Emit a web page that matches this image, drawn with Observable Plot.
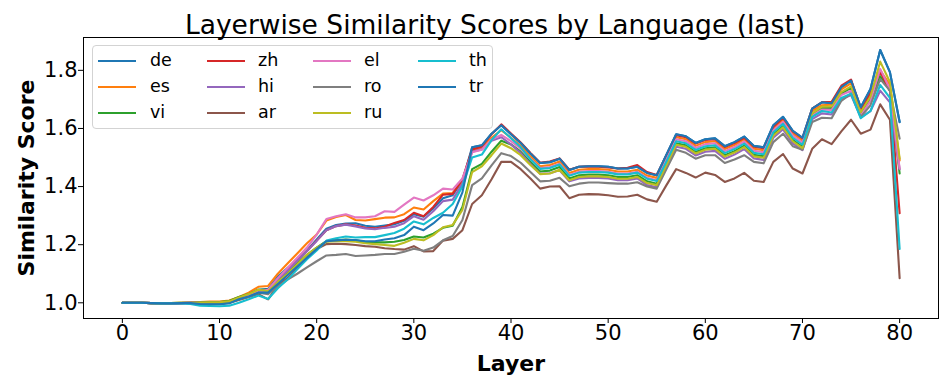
<!DOCTYPE html>
<html>
<head>
<meta charset="utf-8">
<script src="https://cdn.jsdelivr.net/npm/d3@7"></script>
<script src="https://cdn.jsdelivr.net/npm/@observablehq/plot@0.6"></script>
<style>
  body { margin: 0; background: #fff; font-family: "DejaVu Sans", sans-serif; }
  #wrap { position: relative; width: 947px; height: 388px; overflow: hidden; }
  #legend { position: absolute; left: 92px; top: 45px; width: 399px; height: 82px;
            border: 1px solid #d3d3d3; border-radius: 4px; background: rgba(255,255,255,0.8); }
  .sw { position: absolute; width: 38px; height: 2px; }
  .lb { position: absolute; font-size: 17.5px; line-height: 20px; color: #000; white-space: nowrap; }
</style>
</head>
<body>
<div id="wrap"></div>
<script>
// ---- data ----
const languages = ["de", "es", "vi", "zh", "hi", "ar", "el", "ro", "ru", "th", "tr"];
const colors = ["#1f77b4", "#ff7f0e", "#2ca02c", "#d62728", "#9467bd", "#8c564b",
                "#e377c2", "#7f7f7f", "#bcbd22", "#17becf", "#1f77b4"];
const xTicks = [0, 10, 20, 30, 40, 50, 60, 70, 80];
const yTicks = [1.0, 1.2, 1.4, 1.6, 1.8];
const title = "Layerwise Similarity Scores by Language (last)";
const xLabel = "Layer";
const yLabel = "Similarity Score";

const de = [
  1.0,1.0,1.0,0.999,0.998,0.998,0.999,0.999,0.997,0.996,0.997,1.0,
  1.015,1.028,1.045,1.048,1.09,1.12,1.148,1.18,1.218,1.255,1.268,1.273,1.274,1.265,1.262,1.266,1.27,1.282,1.305,1.296,1.325,1.36,1.37,1.42,
  1.535,1.542,1.582,1.611,1.58,1.55,1.514,1.481,1.484,1.496,1.457,1.468,1.47,1.47,1.468,1.462,1.462,1.468,1.447,1.439,
  1.51,1.58,1.573,1.55,1.563,1.566,1.539,1.553,1.572,1.54,1.535,1.611,1.64,1.592,1.568,
  1.668,1.69,1.687,1.742,1.765,1.673,1.736,1.87,1.794,1.622];
const es = [
  1.0,1.0,1.0,0.999,0.999,0.999,1.0,1.001,1.003,1.004,1.004,1.008,
  1.02,1.035,1.055,1.058,1.10,1.135,1.17,1.205,1.235,1.283,1.295,1.302,1.285,1.283,1.288,1.293,1.294,1.305,1.328,1.321,1.35,1.376,1.378,1.42,
  1.525,1.533,1.568,1.594,1.568,1.54,1.504,1.47,1.474,1.486,1.447,1.458,1.46,1.46,1.458,1.452,1.452,1.458,1.438,1.43,
  1.50,1.57,1.563,1.54,1.553,1.556,1.529,1.543,1.562,1.53,1.525,1.60,1.63,1.582,1.558,
  1.66,1.68,1.682,1.735,1.755,1.662,1.72,1.80,1.75,1.49];
const vi = [
  1.0,1.0,1.0,0.999,0.998,0.999,1.0,1.0,1.002,1.003,1.003,1.006,
  1.02,1.03,1.045,1.045,1.075,1.105,1.135,1.165,1.19,1.212,1.215,1.218,1.215,1.21,1.208,1.208,1.21,1.216,1.228,1.225,1.238,1.258,1.265,1.33,
  1.46,1.478,1.52,1.558,1.545,1.52,1.485,1.452,1.455,1.467,1.428,1.439,1.441,1.441,1.439,1.433,1.433,1.439,1.418,1.41,
  1.479,1.549,1.542,1.519,1.532,1.535,1.508,1.522,1.541,1.509,1.504,1.58,1.609,1.561,1.537,
  1.648,1.67,1.67,1.72,1.74,1.652,1.70,1.78,1.73,1.445];
const zh = [
  1.0,1.0,1.0,0.999,0.998,0.998,0.999,1.0,0.999,0.999,1.0,1.002,
  1.015,1.026,1.04,1.042,1.082,1.112,1.145,1.178,1.214,1.25,1.264,1.27,1.266,1.258,1.256,1.262,1.275,1.285,1.31,1.298,1.33,1.372,1.375,1.425,
  1.528,1.538,1.58,1.614,1.583,1.552,1.516,1.482,1.486,1.497,1.458,1.468,1.469,1.468,1.466,1.462,1.465,1.474,1.45,1.44,
  1.508,1.577,1.57,1.548,1.56,1.563,1.536,1.55,1.568,1.537,1.532,1.606,1.636,1.59,1.566,
  1.668,1.69,1.692,1.747,1.768,1.668,1.722,1.795,1.73,1.308];
const hi = [
  1.0,1.0,1.0,0.999,0.998,0.998,0.999,1.0,0.999,0.998,0.999,1.001,
  1.014,1.025,1.04,1.04,1.08,1.11,1.145,1.178,1.213,1.25,1.264,1.269,1.263,1.256,1.253,1.258,1.262,1.274,1.298,1.286,1.315,1.35,1.355,1.41,
  1.52,1.528,1.558,1.57,1.545,1.515,1.478,1.444,1.446,1.456,1.418,1.428,1.43,1.43,1.428,1.422,1.422,1.428,1.405,1.398,
  1.467,1.537,1.53,1.507,1.52,1.523,1.496,1.51,1.529,1.497,1.492,1.568,1.597,1.549,1.525,
  1.632,1.652,1.648,1.70,1.715,1.638,1.66,1.73,1.69,1.46];
const ar = [
  1.0,1.0,1.0,0.999,0.998,0.998,0.999,1.0,0.999,0.998,0.998,1.0,
  1.01,1.02,1.03,1.012,1.06,1.085,1.12,1.155,1.185,1.202,1.203,1.202,1.199,1.195,1.193,1.188,1.185,1.183,1.195,1.177,1.178,1.214,1.22,1.25,
  1.34,1.37,1.425,1.485,1.485,1.46,1.428,1.393,1.4,1.401,1.36,1.372,1.374,1.373,1.37,1.365,1.366,1.372,1.356,1.348,
  1.405,1.46,1.447,1.431,1.448,1.44,1.416,1.428,1.447,1.42,1.416,1.485,1.512,1.462,1.445,
  1.53,1.563,1.546,1.59,1.63,1.582,1.596,1.683,1.63,1.085];
const el = [
  1.0,1.0,1.0,0.999,0.998,0.998,0.999,1.0,1.0,1.0,1.001,1.003,
  1.015,1.025,1.04,1.045,1.085,1.12,1.155,1.19,1.235,1.288,1.298,1.305,1.294,1.294,1.298,1.315,1.313,1.338,1.362,1.352,1.37,1.393,1.39,1.428,
  1.518,1.527,1.562,1.578,1.556,1.53,1.496,1.464,1.467,1.479,1.44,1.451,1.453,1.453,1.451,1.445,1.445,1.451,1.43,1.422,
  1.493,1.563,1.556,1.533,1.546,1.549,1.522,1.536,1.555,1.523,1.518,1.594,1.623,1.575,1.551,
  1.645,1.665,1.664,1.715,1.73,1.645,1.695,1.805,1.735,1.462];
const ro = [
  1.0,1.0,1.0,0.999,0.998,0.998,0.999,1.0,0.999,0.998,0.998,1.0,
  1.012,1.02,1.035,1.03,1.056,1.08,1.10,1.122,1.143,1.163,1.165,1.168,1.161,1.163,1.165,1.168,1.168,1.176,1.186,1.179,1.19,1.215,1.23,1.285,
  1.405,1.428,1.473,1.515,1.505,1.482,1.45,1.418,1.42,1.43,1.401,1.41,1.414,1.414,1.412,1.41,1.41,1.415,1.4,1.393,
  1.46,1.527,1.516,1.496,1.508,1.508,1.481,1.493,1.508,1.485,1.48,1.553,1.582,1.539,1.527,
  1.622,1.637,1.635,1.695,1.72,1.64,1.68,1.77,1.73,1.565];
const ru = [
  1.0,1.0,1.0,0.999,0.998,0.999,1.0,1.0,1.001,1.002,1.002,1.005,
  1.018,1.03,1.045,1.04,1.072,1.10,1.133,1.165,1.19,1.21,1.212,1.212,1.21,1.205,1.202,1.199,1.196,1.207,1.22,1.215,1.233,1.26,1.268,1.32,
  1.45,1.47,1.508,1.548,1.532,1.508,1.474,1.443,1.445,1.458,1.422,1.433,1.435,1.435,1.433,1.427,1.427,1.433,1.412,1.405,
  1.474,1.544,1.537,1.514,1.527,1.53,1.503,1.517,1.536,1.504,1.499,1.575,1.604,1.556,1.532,
  1.652,1.675,1.676,1.725,1.745,1.656,1.71,1.83,1.76,1.496];
const th = [
  1.0,1.0,1.0,0.999,0.998,0.998,0.998,0.996,0.99,0.989,0.988,0.99,
  1.0,1.012,1.025,1.013,1.05,1.08,1.115,1.15,1.18,1.214,1.222,1.228,1.225,1.226,1.226,1.233,1.24,1.255,1.28,1.27,1.292,1.31,1.34,1.40,
  1.50,1.51,1.56,1.597,1.566,1.535,1.494,1.461,1.464,1.476,1.437,1.448,1.45,1.45,1.448,1.442,1.442,1.448,1.427,1.419,
  1.486,1.556,1.549,1.526,1.539,1.542,1.515,1.529,1.548,1.516,1.511,1.587,1.616,1.568,1.544,
  1.64,1.66,1.655,1.705,1.72,1.635,1.66,1.75,1.705,1.185];
const tr = [
  1.0,1.0,1.0,0.999,0.998,0.998,0.999,0.999,0.996,0.995,0.995,0.998,
  1.012,1.022,1.035,1.035,1.065,1.095,1.125,1.155,1.185,1.212,1.215,1.217,1.216,1.212,1.212,1.218,1.222,1.233,1.262,1.25,1.273,1.302,1.30,1.38,
  1.535,1.542,1.582,1.611,1.58,1.55,1.514,1.481,1.484,1.496,1.457,1.468,1.47,1.47,1.468,1.462,1.462,1.468,1.447,1.439,
  1.51,1.58,1.573,1.55,1.563,1.566,1.539,1.553,1.572,1.54,1.535,1.611,1.64,1.592,1.568,
  1.668,1.69,1.687,1.742,1.765,1.673,1.736,1.87,1.794,1.622];

const seriesValues = [de, es, vi, zh, hi, ar, el, ro, ru, th, tr];

// ---- build table ----
const rows = [];
languages.forEach((lang, i) => {
  seriesValues[i].forEach((v, layer) => rows.push({lang, layer, score: v}));
});

const lineMarks = languages.map((lang, i) =>
  Plot.line(rows.filter(r => r.lang === lang), {
    x: "layer", y: "score", stroke: colors[i], strokeWidth: 2.1
  })
);

const chart = Plot.plot({
  width: 947,
  height: 388,
  marginLeft: 83,
  marginRight: 9,
  marginTop: 37,
  marginBottom: 70,
  style: {fontFamily: "DejaVu Sans, sans-serif", fontSize: "21px", color: "#000", background: "#fff", overflow: "visible"},
  x: {domain: [-4, 84], label: null},
  y: {domain: [0.946, 1.913], label: null},
  marks: [
    ...lineMarks,
    Plot.frame({stroke: "#000", strokeWidth: 1}),
    Plot.axisX(xTicks, {tickSize: 5, tickPadding: 2, fontSize: 21, label: null, stroke: "#000"}),
    Plot.axisY(yTicks, {tickSize: 5, tickPadding: 1, fontSize: 21, label: null, tickFormat: d3.format(".1f"), stroke: "#000"}),
    Plot.text([title], {text: d => d, frameAnchor: "top", textAnchor: "middle", dx: -16, dy: -22, fontSize: 26.5, fill: "#000"}),
    Plot.text([xLabel], {text: d => d, frameAnchor: "bottom", textAnchor: "middle", dy: 52, fontSize: 22, fontWeight: "bold", fill: "#000"}),
    Plot.text([yLabel], {text: d => d, frameAnchor: "left", textAnchor: "middle", dx: -57, rotate: -90, fontSize: 22, fontWeight: "bold", fill: "#000"})
  ]
});

const wrap = document.getElementById("wrap");
wrap.appendChild(chart);

// ---- legend (4 columns, column-major) ----
const legend = document.createElement("div");
legend.id = "legend";
const colLine = [5, 114, 220, 325];
const colText = [57, 165, 271, 376];
const rowY = [15, 41, 67];
languages.forEach((lang, i) => {
  const c = Math.floor(i / 3), r = i % 3;
  const sw = document.createElement("div");
  sw.className = "sw";
  sw.style.left = colLine[c] + "px";
  sw.style.top = (rowY[r] - 1) + "px";
  sw.style.background = colors[i];
  legend.appendChild(sw);
  const lb = document.createElement("div");
  lb.className = "lb";
  lb.style.left = colText[c] + "px";
  lb.style.top = (rowY[r] - 11) + "px";
  lb.textContent = lang;
  legend.appendChild(lb);
});
wrap.appendChild(legend);
</script>
</body>
</html>
